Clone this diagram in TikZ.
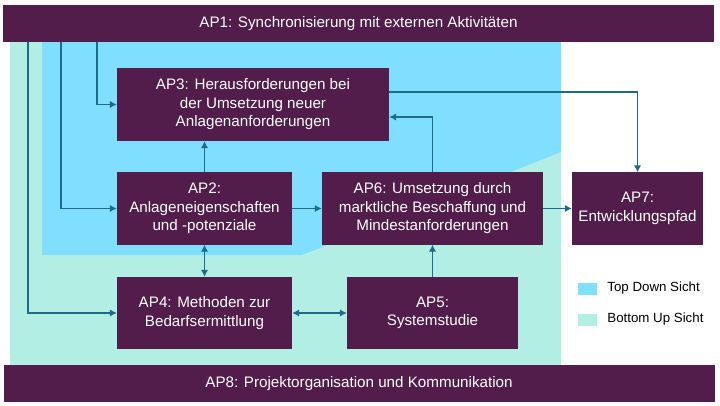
\documentclass[tikz,border=0pt]{standalone}
\usepackage{fontspec}
\setmainfont{Liberation Sans}
\usetikzlibrary{arrows.meta,positioning}
\definecolor{apviolet}{HTML}{521C4B}
\definecolor{topdown}{HTML}{80DFFE}
\definecolor{bottomup}{HTML}{B3EEE5}
\definecolor{apline}{HTML}{1D6B89}
\tikzset{
  ap/.style={rectangle, fill=apviolet, text=white, align=center, inner sep=2pt, font=\fontsize{15.2}{18.5}\selectfont},
  bar/.style={ap, minimum width=711pt, minimum height=37pt},
  arr/.style={draw=apline, line width=1.8pt, ->},
  darr/.style={arr, <->},
  legendbox/.style={rectangle, minimum width=19pt, minimum height=12pt, inner sep=0pt},
  legendtext/.style={inner sep=0pt, font=\fontsize{13.3}{16}\selectfont}
}

\begin{document}
\begin{tikzpicture}[x=1pt, y=-1pt, >={Latex[length=7pt,width=7.5pt]}]
    \useasboundingbox (0,0) rectangle (720,406);
    % Sichten
    \fill[bottomup] (10,41) rectangle (561,366);
    \fill[topdown] (42,41) -- (561,41) -- (561,152) -- (302,255) -- (42,255) -- cycle;

    \node[bar] (ap1) at (358.5,23.5) {AP1: Synchronisierung mit externen Aktivitäten};
    \node[bar] (ap8) at (359,383.5) {AP8: Projektorganisation und Kommunikation};

    \node[ap, minimum width=272pt, minimum height=73pt] (ap3) at (253,104.5) {AP3: Herausforderungen bei\\der Umsetzung neuer\\Anlagenanforderungen};
    \node[ap, minimum width=175pt, minimum height=72pt] (ap2) at (204.5,208.5) {AP2:\\Anlageneigenschaften\\und -potenziale};
    \node[ap, minimum width=221pt, minimum height=72pt] (ap6) at (432.5,208.5) {AP6: Umsetzung durch\\marktliche Beschaffung und\\Mindestanforderungen};
    \node[ap, minimum width=131pt, minimum height=72pt] (ap7) at (637.5,208.5) {AP7:\\Entwicklungspfad};
    \node[ap, minimum width=175pt, minimum height=72pt] (ap4) at (204.5,313) {AP4: Methoden zur\\Bedarfsermittlung};
    \node[ap, minimum width=171pt, minimum height=72pt] (ap5) at (432.5,313) {AP5:\\Systemstudie};

    \draw[arr] ([xshift=25pt]ap1.south west) |- (ap4.west);
    \draw[arr] ([xshift=58pt]ap1.south west) |- (ap2.west);
    \draw[arr] ([xshift=94pt]ap1.south west) |- (ap3.west);
    \draw[arr] (ap2.north) -- (ap2.north |- ap3.south);
    \draw[arr] (ap2.east) -- (ap6.west);
    \draw[arr] (ap6.north) |- ([yshift=-12.5pt]ap3.east);
    \draw[arr] ([yshift=12.5pt]ap3.east) -| (ap7.north);
    \draw[arr] (ap6.east) -- (ap7.west);
    \draw[darr] (ap2.south) -- (ap4.north);
    \draw[darr] (ap4.east) -- (ap5.west);
    \draw[arr] (ap5.north) -- (ap6.south);

    % Legende
    \node[legendbox, fill=topdown] (lgtd) at (587.5,288.5) {};
    \node[legendtext, right=10pt of lgtd] {Top Down Sicht};
    \node[legendbox, fill=bottomup] (lgbu) at (587.5,319.5) {};
    \node[legendtext, right=10pt of lgbu] {Bottom Up Sicht};
\end{tikzpicture}
\end{document}
